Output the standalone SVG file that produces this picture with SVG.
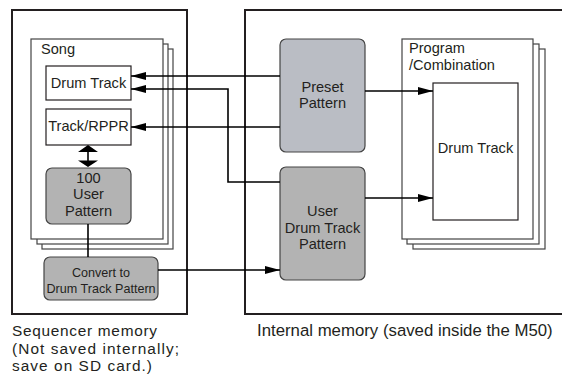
<svg xmlns="http://www.w3.org/2000/svg" width="562" height="374" viewBox="0 0 562 374">
<style>
text{font-family:"Liberation Sans",Arial,sans-serif;fill:#231f20}
.big{font-size:16.8px}
.cap{font-size:15.4px}
.lbl{font-size:14.6px}
.sm{font-size:12.6px}
.c{text-anchor:middle}
.frame{fill:#fff;stroke:#231f20;stroke-width:2}
.sheet{fill:#fff;stroke:#444;stroke-width:1.2}
.box{fill:#fff;stroke:#231f20;stroke-width:1.2}
.user{fill:#b3b3b3;stroke:#444;stroke-width:1.2}
.preset{fill:#babdc4;stroke:#444;stroke-width:1.2}
.ln{fill:none;stroke:#000;stroke-width:1.6}
</style>
<defs>
<marker id="ah" markerUnits="userSpaceOnUse" markerWidth="16" markerHeight="10" refX="15" refY="4" orient="auto">
<path d="M0,0 L15,4 L0,8 Z" fill="#000"/>
</marker>
</defs>
<g id="sequencer-memory">
<rect class="frame" x="12" y="10" width="175" height="304"/>
</g>
<g id="internal-memory">
<rect class="frame" x="245" y="10" width="330" height="304"/>
</g>
<g id="song">
<rect class="sheet" x="42" y="49" width="131" height="200"/>
<rect class="sheet" x="37" y="44" width="131" height="200"/>
<rect class="sheet" x="31" y="39" width="132" height="200"/>
<text class="lbl" x="41" y="54">Song</text>
</g>
<g id="drum-track">
<rect class="box" x="46" y="66" width="85" height="34"/>
<text class="lbl c" x="88.5" y="87.5">Drum Track</text>
</g>
<g id="track-rppr">
<rect class="box" x="46" y="109" width="85" height="36"/>
<text class="lbl c" x="88.5" y="131">Track/RPPR</text>
</g>
<g id="user-pattern">
<rect class="user" x="46" y="168" width="85" height="56" rx="6"/>
<text class="lbl c" x="88.5" y="182.5">100</text>
<text class="lbl c" x="88.5" y="199">User</text>
<text class="lbl c" x="88.5" y="215.5">Pattern</text>
</g>
<g id="convert">
<rect class="user" x="44" y="257" width="114" height="43" rx="6"/>
<text class="sm c" x="101" y="276.5">Convert to</text>
<text class="sm c" x="101" y="293">Drum Track Pattern</text>
</g>
<g id="preset-pattern">
<rect class="preset" x="280" y="39" width="85" height="113" rx="6"/>
<text class="lbl c" x="322.5" y="92">Preset</text>
<text class="lbl c" x="322.5" y="108">Pattern</text>
</g>
<g id="user-drum-track-pattern">
<rect class="user" x="280" y="167" width="85" height="113" rx="6"/>
<text class="lbl c" x="322.5" y="216">User</text>
<text class="lbl c" x="322.5" y="232.5">Drum Track</text>
<text class="lbl c" x="322.5" y="249">Pattern</text>
</g>
<g id="program-combination">
<rect class="sheet" x="413" y="49" width="132" height="200"/>
<rect class="sheet" x="407" y="44" width="132" height="200"/>
<rect class="sheet" x="402" y="39" width="131" height="200"/>
<text class="lbl" x="409" y="53">Program</text>
<text class="lbl" x="409" y="69.5">/Combination</text>
</g>
<g id="pc-drum-track">
<rect class="box" x="433" y="83" width="85" height="137"/>
<text class="lbl c" x="475.5" y="153">Drum Track</text>
</g>
<g id="connectors">
<path class="ln" d="M280,76 H131" marker-end="url(#ah)"/>
<path class="ln" d="M280,182 H228 V89 H131" marker-end="url(#ah)"/>
<path class="ln" d="M280,127 H131" marker-end="url(#ah)"/>
<path class="ln" d="M365,91 H433" marker-end="url(#ah)"/>
<path class="ln" d="M365,198 H433" marker-end="url(#ah)"/>
<path class="ln" d="M158,270 H280" marker-end="url(#ah)"/>
<path class="ln" d="M88,224 V257"/>
<path class="ln" d="M88,151 V161"/>
<path d="M88,145 L98,152 L78,152 Z M88,167 L98,160.5 L78,160.5 Z" fill="#000"/>
</g>
<g id="captions">
<text class="cap" x="12" y="336" textLength="145" lengthAdjust="spacing">Sequencer memory</text>
<text class="cap" x="12" y="353.5" textLength="167" lengthAdjust="spacing">(Not saved internally;</text>
<text class="cap" x="12" y="371" textLength="140" lengthAdjust="spacing">save on SD card.)</text>
<text class="big" x="257" y="336">Internal memory (saved inside the M50)</text>
</g>
</svg>
